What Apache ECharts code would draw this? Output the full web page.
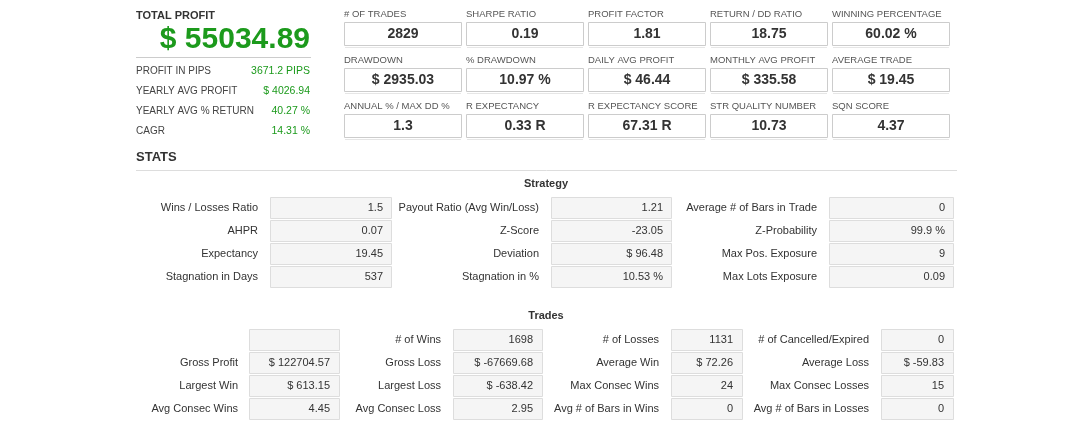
<!DOCTYPE html>
<html><head><meta charset="utf-8">
<script src="https://cdn.jsdelivr.net/npm/echarts@6/dist/echarts.min.js"></script>
<style>html,body{margin:0;padding:0;background:#fff}#c{width:1085px;height:438px}</style>
</head><body><div id="c"></div>
<script>
const totalProfit = "$ 55034.89";
const summaryLabels = ["PROFIT IN PIPS","YEARLY AVG PROFIT","YEARLY AVG % RETURN","CAGR"];
const summaryValues = ["3671.2 PIPS","$ 4026.94","40.27 %","14.31 %"];
const metricLabels = [
 ["# OF TRADES","SHARPE RATIO","PROFIT FACTOR","RETURN / DD RATIO","WINNING PERCENTAGE"],
 ["DRAWDOWN","% DRAWDOWN","DAILY AVG PROFIT","MONTHLY AVG PROFIT","AVERAGE TRADE"],
 ["ANNUAL % / MAX DD %","R EXPECTANCY","R EXPECTANCY SCORE","STR QUALITY NUMBER","SQN SCORE"]];
const metricValues = [
 ["2829","0.19","1.81","18.75","60.02 %"],
 ["$ 2935.03","10.97 %","$ 46.44","$ 335.58","$ 19.45"],
 ["1.3","0.33 R","67.31 R","10.73","4.37"]];
const strategyLabels = [
 ["Wins / Losses Ratio","Payout Ratio (Avg Win/Loss)","Average # of Bars in Trade"],
 ["AHPR","Z-Score","Z-Probability"],
 ["Expectancy","Deviation","Max Pos. Exposure"],
 ["Stagnation in Days","Stagnation in %","Max Lots Exposure"]];
const strategyValues = [
 ["1.5","1.21","0"],["0.07","-23.05","99.9 %"],["19.45","$ 96.48","9"],["537","10.53 %","0.09"]];
const tradesLabels = [
 ["","# of Wins","# of Losses","# of Cancelled/Expired"],
 ["Gross Profit","Gross Loss","Average Win","Average Loss"],
 ["Largest Win","Largest Loss","Max Consec Wins","Max Consec Losses"],
 ["Avg Consec Wins","Avg Consec Loss","Avg # of Bars in Wins","Avg # of Bars in Losses"]];
const tradesValues = [
 ["","1698","1131","0"],
 ["$ 122704.57","$ -67669.68","$ 72.26","$ -59.83"],
 ["$ 613.15","$ -638.42","24","15"],
 ["4.45","2.95","0","0"]];

const FA = "'Liberation Sans', Arial, sans-serif";
const g = [];
function txt(x,y,t,o){g.push({type:'text',x,y,style:Object.assign({text:t,font:'11px '+FA,fill:'#333',textVerticalAlign:'middle'},o||{})});}
function rect(x,y,w,h,fill,stroke){g.push({type:'rect',shape:{x,y,width:w,height:h},style:{fill,stroke,lineWidth:1}});}
function line(x1,y1,x2,y2,c){g.push({type:'line',shape:{x1,y1,x2,y2},style:{stroke:c,lineWidth:1}});}

txt(136,16,"TOTAL PROFIT",{font:'bold 11px '+FA,fill:'#333'});
txt(310,40,totalProfit,{font:'bold 30px '+FA,fill:'#1c9a1c',textAlign:'right'});
line(136,57.5,311,57.5,'#ccc');
summaryLabels.forEach((l,i)=>{const y=71+20*i;
 txt(136,y,l,{fill:'#444',font:'10px '+FA});
 txt(310,y,summaryValues[i],{fill:'#1c9a1c',textAlign:'right',font:'10.5px '+FA});});

const mx=[344,466,588,710,832];
metricLabels.forEach((row,r)=>row.forEach((l,c)=>{
 const x=mx[c], y0=14+46*r;
 txt(x,y0,l,{fill:'#555',font:'9.5px '+FA});
 rect(x+0.5,y0+8.5,117,23,'#fff','#ccc');
 line(x+1,y0+33.5,x+117,y0+33.5,'#e6e6e6');
 txt(x+59,y0+20,metricValues[r][c],{font:'bold 14px '+FA,textAlign:'center',fill:'#333'});
}));

txt(136,157,"STATS",{font:'bold 13px '+FA,fill:'#333'});
line(136,170.5,957,170.5,'#ddd');

txt(546,184,"Strategy",{font:'bold 11px '+FA,textAlign:'center'});
const sLab=[258,539,817], sBox=[[270,121],[551,120],[829,124]];
strategyLabels.forEach((row,r)=>row.forEach((l,c)=>{
 const y=208+23*r;
 txt(sLab[c],y,l,{textAlign:'right'});
 rect(sBox[c][0]+0.5,y-10.5,sBox[c][1],21,'#f5f5f5','#ddd');
 txt(sBox[c][0]+sBox[c][1]-8,y,strategyValues[r][c],{textAlign:'right'});
}));

txt(546,316,"Trades",{font:'bold 11px '+FA,textAlign:'center'});
const tLab=[238,441,659,869], tBox=[[249,90],[453,89],[671,71],[881,72]];
tradesLabels.forEach((row,r)=>row.forEach((l,c)=>{
 const y=340+23*r;
 if(l) txt(tLab[c],y,l,{textAlign:'right'});
 rect(tBox[c][0]+0.5,y-10.5,tBox[c][1],21,'#f5f5f5','#ddd');
 if(tradesValues[r][c]) txt(tBox[c][0]+tBox[c][1]-9,y,tradesValues[r][c],{textAlign:'right'});
}));

const ch=echarts.init(document.getElementById('c'),null,{renderer:'canvas'});
ch.setOption({animation:false,graphic:{elements:g}});
</script></body></html>
